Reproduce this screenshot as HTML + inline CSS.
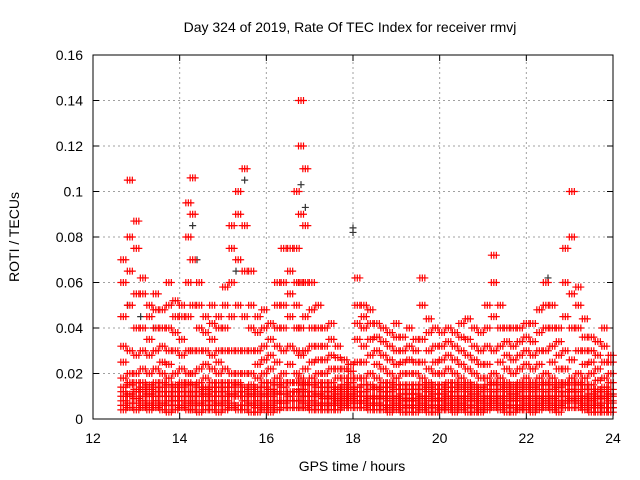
<!DOCTYPE html>
<html><head><meta charset="utf-8"><style>
body{margin:0;background:#fff}
svg{display:block;font-family:"Liberation Sans",sans-serif}
</style></head><body>
<svg id="chart" width="640" height="480">
<text x="350" y="32" font-size="14" text-anchor="middle">Day 324 of 2019, Rate Of TEC Index for receiver rmvj</text>
<text x="352" y="471" font-size="14" text-anchor="middle">GPS time / hours</text>
<text x="19" y="237" font-size="14" text-anchor="middle" transform="rotate(-90 19 237)">ROTI / TECUs</text>
<g id="grid"></g>
<g id="ticks"></g>
<g id="gray"></g>
<g id="red"></g>
<rect x="93" y="55" width="520" height="364" fill="none" stroke="#000" stroke-width="1"/>
</svg>
<script>
const xTicks=[12,14,16,18,20,22,24];
const yTicks=[0,0.02,0.04,0.06,0.08,0.1,0.12,0.14,0.16];
const yTickLabels=["0","0.02","0.04","0.06","0.08","0.1","0.12","0.14","0.16"];
const redTimes=[12.70,12.85,13.00,13.15,13.30,13.45,13.60,13.75,13.90,14.05,14.20,14.30,14.45,14.60,14.75,14.90,15.05,15.20,15.35,15.50,15.65,15.80,15.95,16.10,16.25,16.40,16.55,16.70,16.80,16.90,17.05,17.20,17.35,17.50,17.65,17.80,17.95,18.10,18.25,18.40,18.55,18.70,18.85,19.00,19.15,19.30,19.45,19.60,19.75,19.90,20.05,20.20,20.35,20.50,20.65,20.80,20.95,21.10,21.25,21.40,21.55,21.70,21.85,22.00,22.15,22.30,22.45,22.60,22.75,22.90,23.05,23.20,23.35,23.50,23.65,23.80,23.95];
const redValues=[
[0.008,0.012,0.018,0.025,0.032,0.045,0.06,0.07],
[0.01,0.015,0.02,0.03,0.05,0.065,0.08,0.105],
[0.007,0.012,0.02,0.028,0.04,0.055,0.075,0.087],
[0.008,0.012,0.016,0.022,0.03,0.04,0.055,0.062],
[0.006,0.01,0.015,0.02,0.028,0.035,0.045,0.05],
[0.008,0.012,0.016,0.022,0.03,0.04,0.048,0.055],
[0.006,0.01,0.014,0.02,0.025,0.032,0.04,0.048],
[0.008,0.012,0.018,0.024,0.03,0.04,0.05,0.06],
[0.006,0.01,0.015,0.02,0.03,0.038,0.045,0.052],
[0.008,0.012,0.016,0.022,0.028,0.035,0.045,0.05],
[0.01,0.015,0.02,0.03,0.045,0.06,0.08,0.095],
[0.008,0.012,0.02,0.03,0.05,0.07,0.09,0.106],
[0.007,0.012,0.016,0.022,0.03,0.04,0.05,0.06],
[0.006,0.01,0.014,0.018,0.024,0.03,0.038,0.045],
[0.008,0.012,0.016,0.022,0.028,0.035,0.042,0.05],
[0.006,0.01,0.014,0.02,0.025,0.03,0.04,0.045],
[0.008,0.012,0.016,0.022,0.03,0.04,0.05,0.058],
[0.01,0.014,0.02,0.03,0.045,0.06,0.075,0.085],
[0.01,0.015,0.02,0.03,0.05,0.07,0.09,0.1],
[0.008,0.012,0.02,0.03,0.045,0.065,0.085,0.11],
[0.006,0.01,0.015,0.02,0.03,0.04,0.05,0.065],
[0.005,0.008,0.012,0.018,0.024,0.03,0.038,0.045],
[0.006,0.01,0.014,0.02,0.026,0.032,0.04,0.048],
[0.005,0.008,0.012,0.016,0.022,0.028,0.035,0.042],
[0.007,0.012,0.018,0.025,0.032,0.04,0.05,0.06],
[0.008,0.014,0.02,0.03,0.04,0.05,0.06,0.075],
[0.01,0.016,0.024,0.032,0.045,0.055,0.065,0.075],
[0.012,0.02,0.03,0.04,0.05,0.06,0.075,0.1],
[0.01,0.018,0.028,0.04,0.06,0.09,0.12,0.14],
[0.01,0.015,0.022,0.03,0.045,0.06,0.085,0.11],
[0.008,0.012,0.018,0.025,0.032,0.04,0.048,0.06],
[0.006,0.01,0.014,0.02,0.026,0.032,0.04,0.05],
[0.006,0.009,0.012,0.016,0.02,0.026,0.032,0.04],
[0.006,0.009,0.012,0.016,0.022,0.028,0.035,0.042],
[0.006,0.008,0.011,0.014,0.018,0.022,0.027,0.032],
[0.006,0.008,0.01,0.012,0.015,0.018,0.022,0.026],
[0.007,0.009,0.011,0.013,0.016,0.018,0.021,0.024],
[0.008,0.012,0.018,0.025,0.035,0.042,0.05,0.062],
[0.008,0.012,0.018,0.025,0.032,0.04,0.045,0.05],
[0.007,0.01,0.015,0.02,0.028,0.035,0.042,0.048],
[0.006,0.009,0.013,0.018,0.024,0.03,0.036,0.042],
[0.006,0.009,0.012,0.016,0.022,0.028,0.034,0.04],
[0.005,0.008,0.012,0.016,0.02,0.026,0.032,0.038],
[0.006,0.009,0.013,0.018,0.024,0.03,0.036,0.042],
[0.005,0.008,0.011,0.015,0.02,0.025,0.03,0.036],
[0.005,0.008,0.011,0.015,0.02,0.026,0.032,0.04],
[0.005,0.008,0.011,0.015,0.02,0.025,0.03,0.035],
[0.006,0.009,0.013,0.018,0.025,0.035,0.05,0.062],
[0.005,0.008,0.012,0.016,0.022,0.03,0.038,0.044],
[0.005,0.008,0.011,0.015,0.02,0.025,0.032,0.04],
[0.005,0.008,0.011,0.015,0.02,0.026,0.032,0.038],
[0.006,0.009,0.012,0.016,0.022,0.028,0.034,0.04],
[0.005,0.008,0.012,0.016,0.02,0.026,0.032,0.038],
[0.006,0.009,0.013,0.018,0.024,0.03,0.036,0.042],
[0.005,0.008,0.012,0.016,0.022,0.028,0.035,0.044],
[0.005,0.008,0.011,0.015,0.02,0.026,0.032,0.04],
[0.004,0.007,0.01,0.014,0.018,0.024,0.03,0.038],
[0.006,0.009,0.013,0.018,0.024,0.032,0.04,0.05],
[0.007,0.01,0.015,0.02,0.03,0.045,0.06,0.072],
[0.006,0.009,0.013,0.018,0.025,0.032,0.04,0.05],
[0.005,0.008,0.012,0.016,0.022,0.028,0.034,0.04],
[0.005,0.008,0.011,0.015,0.02,0.026,0.032,0.04],
[0.005,0.008,0.012,0.016,0.022,0.028,0.034,0.04],
[0.006,0.009,0.013,0.018,0.024,0.03,0.036,0.042],
[0.005,0.008,0.012,0.016,0.022,0.028,0.034,0.042],
[0.006,0.009,0.013,0.018,0.024,0.03,0.038,0.048],
[0.007,0.01,0.015,0.02,0.03,0.04,0.05,0.06],
[0.006,0.009,0.013,0.018,0.025,0.032,0.04,0.05],
[0.005,0.008,0.012,0.016,0.022,0.028,0.034,0.04],
[0.007,0.01,0.015,0.022,0.03,0.045,0.06,0.075],
[0.008,0.012,0.018,0.026,0.04,0.055,0.08,0.1],
[0.007,0.01,0.015,0.02,0.03,0.04,0.05,0.058],
[0.006,0.009,0.013,0.018,0.024,0.03,0.036,0.044],
[0.005,0.008,0.011,0.015,0.02,0.025,0.03,0.036],
[0.005,0.007,0.01,0.013,0.017,0.022,0.028,0.034],
[0.005,0.007,0.01,0.014,0.018,0.025,0.032,0.04],
[0.005,0.007,0.01,0.013,0.016,0.02,0.025,0.028]
];
const redFloorValues=[
[0.004,0.006,0.010,0.014],[0.005,0.007,0.011,0.016],[0.004,0.009,0.013,0.016],[0.005,0.006,0.010,0.014],
[0.004,0.007,0.011,0.013],[0.005,0.006,0.010,0.014],[0.004,0.007,0.012,0.016],[0.003,0.006,0.010,0.015],
[0.004,0.008,0.012,0.014],[0.005,0.006,0.010,0.014],[0.004,0.007,0.012,0.016],[0.004,0.006,0.010,0.015],
[0.003,0.006,0.010,0.014],[0.004,0.008,0.011,0.013],[0.004,0.006,0.010,0.014],[0.003,0.007,0.012,0.016],
[0.004,0.006,0.010,0.014],[0.005,0.007,0.011,0.016],[0.004,0.006,0.012,0.016],[0.004,0.006,0.010,0.014],
[0.003,0.007,0.011,0.013],[0.003,0.006,0.010,0.014],[0.004,0.007,0.011,0.016],[0.003,0.006,0.010,0.013],
[0.004,0.008,0.011,0.015],[0.005,0.007,0.011,0.016],[0.005,0.008,0.012,0.016],[0.005,0.008,0.012,0.016],
[0.005,0.008,0.013,0.016],[0.005,0.007,0.012,0.016],[0.004,0.006,0.010,0.015],[0.004,0.007,0.011,0.016],
[0.004,0.007,0.010,0.014],[0.004,0.007,0.010,0.014],[0.004,0.007,0.009,0.013],[0.005,0.007,0.009,0.013],
[0.005,0.008,0.010,0.014],[0.005,0.007,0.010,0.014],[0.005,0.007,0.010,0.015],[0.004,0.006,0.009,0.013],
[0.004,0.007,0.010,0.014],[0.004,0.006,0.010,0.014],[0.003,0.006,0.010,0.014],[0.004,0.007,0.010,0.015],
[0.003,0.006,0.009,0.013],[0.003,0.006,0.009,0.013],[0.003,0.006,0.009,0.013],[0.004,0.007,0.010,0.015],
[0.003,0.006,0.010,0.014],[0.003,0.006,0.009,0.013],[0.004,0.006,0.009,0.013],[0.004,0.007,0.010,0.014],
[0.003,0.006,0.010,0.014],[0.004,0.007,0.010,0.015],[0.003,0.006,0.010,0.014],[0.003,0.006,0.009,0.013],
[0.003,0.005,0.008,0.012],[0.004,0.007,0.010,0.015],[0.005,0.008,0.012,0.016],[0.004,0.007,0.010,0.015],
[0.003,0.006,0.010,0.014],[0.003,0.006,0.009,0.013],[0.004,0.006,0.010,0.014],[0.004,0.007,0.010,0.015],
[0.003,0.006,0.010,0.014],[0.004,0.007,0.010,0.015],[0.005,0.008,0.012,0.016],[0.004,0.007,0.010,0.015],
[0.003,0.006,0.010,0.014],[0.005,0.008,0.012,0.016],[0.005,0.009,0.013,0.016],[0.005,0.008,0.012,0.016],
[0.004,0.007,0.010,0.015],[0.003,0.006,0.009,0.013],[0.003,0.006,0.009,0.012],[0.003,0.005,0.009,0.012],
[0.003,0.005,0.008,0.011]
];
const grayTimes=[12.8,13.1,13.4,14.3,14.4,15.3,15.5,16.8,16.9,18.0,18.0,22.5];
const grayValues=[0.05,0.045,0.04,0.085,0.07,0.065,0.105,0.103,0.093,0.084,0.082,0.062];

const NS="http://www.w3.org/2000/svg";
const X0=93,X1=613,Y0=419,Y1=55;
const xs=t=>X0+(t-12)/12*(X1-X0);
const ys=v=>Y0-v/0.16*(Y0-Y1);
function mk(tag,attrs,parent){const e=document.createElementNS(NS,tag);for(const k in attrs)e.setAttribute(k,attrs[k]);parent.appendChild(e);return e;}
const grid=document.getElementById('grid'),ticks=document.getElementById('ticks');
xTicks.forEach(t=>{
  const x=xs(t);
  if(t>12&&t<24){const l=mk('line',{x1:x,x2:x,y1:Y0,y2:Y1,stroke:'#a0a0a0','stroke-dasharray':'2,3'},grid);
  
  }
  mk('line',{x1:x,x2:x,y1:Y0,y2:Y0-6,stroke:'#000'},ticks);
  mk('line',{x1:x,x2:x,y1:Y1,y2:Y1+6,stroke:'#000'},ticks);
  const tx=mk('text',{x:x,y:Y0+24,'font-size':14,'text-anchor':'middle'},ticks);tx.textContent=t;
  
  
});
yTicks.forEach((v,i)=>{
  const y=ys(v);
  if(i>0&&i<yTicks.length-1){const l=mk('line',{x1:X0,x2:X1,y1:y,y2:y,stroke:'#a0a0a0','stroke-dasharray':'2,3'},grid);
  
  }
  mk('line',{x1:X0,x2:X0+6,y1:y,y2:y,stroke:'#000'},ticks);
  mk('line',{x1:X1,x2:X1-6,y1:y,y2:y,stroke:'#000'},ticks);
  const tx=mk('text',{x:X0-10,y:y+5,'font-size':14,'text-anchor':'end'},ticks);tx.textContent=yTickLabels[i];
  
  
});
function plus(g,x,y,c){
  const p=mk('path',{d:`M${x-3.5},${y}h7M${x},${y-3.5}v7`,stroke:c,'stroke-width':1.2},g);
  
  
}
const gg=document.getElementById('gray');
grayTimes.forEach((t,i)=>plus(gg,xs(t),ys(grayValues[i]),'#333'));
const rg=document.getElementById('red');
const offsets=[-2.5,0,2.5];
redTimes.forEach((t,i)=>{
  redValues[i].concat(redFloorValues[i]).forEach(v=>{
    offsets.forEach(dx=>plus(rg,xs(t)+dx,ys(v),'#ff0000'));
  });
});
</script>
</body></html>
